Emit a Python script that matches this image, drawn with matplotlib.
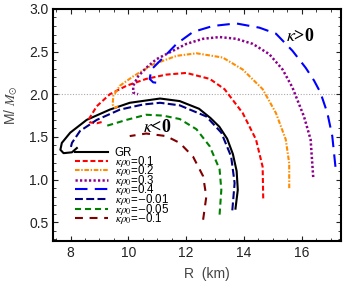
import matplotlib
matplotlib.use("Agg")
import matplotlib.pyplot as plt
from matplotlib.ticker import MultipleLocator

plt.rcParams["font.family"] = ["Liberation Sans", "DejaVu Sans"]
plt.rcParams["mathtext.fontset"] = "stix"

# mass-radius curves, R in km, M in solar masses
gr_R = [13.71, 13.79, 13.75, 13.62, 13.42, 13.15, 12.85, 12.45, 11.78, 11.10, 10.05, 9.36, 8.56, 7.99, 7.70, 7.65, 7.76, 8.05, 8.22]
gr_M = [0.66, 0.88, 1.10, 1.30, 1.48, 1.62, 1.72, 1.83, 1.92, 1.95, 1.90, 1.82, 1.70, 1.55, 1.43, 1.35, 1.31, 1.32, 1.37]

k01_R = [14.67, 14.65, 14.42, 13.96, 13.33, 12.82, 12.01, 11.31, 10.62, 9.94, 9.36, 8.91, 8.62, 8.68, 8.91, 9.14]
k01_M = [0.78, 1.15, 1.47, 1.78, 2.06, 2.18, 2.25, 2.23, 2.18, 2.10, 2.00, 1.86, 1.70, 1.67, 1.66, 1.68]

k02_R = [15.57, 15.57, 15.45, 15.11, 14.65, 13.96, 13.27, 12.36, 11.67, 10.86, 10.17, 9.71, 9.48, 9.46, 9.54, 9.65]
k02_M = [0.90, 1.19, 1.47, 1.78, 2.06, 2.29, 2.43, 2.48, 2.45, 2.35, 2.21, 2.10, 1.98, 1.88, 1.84, 1.86]

k03_R = [16.40, 16.31, 16.08, 15.68, 15.34, 14.88, 14.31, 13.73, 13.16, 12.59, 12.01, 11.55, 10.97, 10.62, 10.34, 10.17, 10.17, 10.34]
k03_M = [1.03, 1.47, 1.74, 2.08, 2.29, 2.47, 2.59, 2.65, 2.67, 2.65, 2.59, 2.51, 2.41, 2.31, 2.21, 2.10, 2.02, 2.00]

k04_R = [17.17, 17.06, 16.89, 16.65, 16.43, 16.14, 15.68, 15.11, 14.54, 13.73, 12.93, 12.24, 11.67, 11.30, 10.80, 10.74, 10.86, 11.09]
k04_M = [1.15, 1.51, 1.78, 2.02, 2.16, 2.31, 2.51, 2.71, 2.78, 2.83, 2.80, 2.73, 2.59, 2.46, 2.29, 2.18, 2.14, 2.13]

km001_R = [13.60, 13.68, 13.56, 13.22, 12.70, 11.78, 11.10, 10.51, 9.71, 8.91, 8.33, 8.05, 7.99]
km001_M = [0.64, 0.96, 1.27, 1.55, 1.74, 1.87, 1.90, 1.88, 1.82, 1.70, 1.57, 1.43, 1.35]

km005_R = [13.16, 13.22, 13.16, 12.82, 12.36, 11.78, 11.20, 10.62, 9.94, 9.25]
km005_M = [0.59, 0.88, 1.12, 1.39, 1.59, 1.71, 1.75, 1.76, 1.70, 1.63]

km01_R = [12.59, 12.70, 12.59, 12.24, 11.78, 11.31, 10.62, 10.05]
km01_M = [0.53, 0.80, 1.04, 1.27, 1.43, 1.51, 1.54, 1.51]

labels = ["GR", r"$\kappa\rho_0$=0.1", r"$\kappa\rho_0$=0.2", r"$\kappa\rho_0$=0.3",
          r"$\kappa\rho_0$=0.4", r"$\kappa\rho_0$=$-$0.01", r"$\kappa\rho_0$=$-$0.05",
          r"$\kappa\rho_0$=$-$0.1"]

curves = [
    (gr_R, gr_M, "black", "-", 1.5),
    (k01_R, k01_M, "#ff0000", (0, (2.4, 1.3)), 1.5),
    (k02_R, k02_M, "#ff8c00", (0, (2.2, 0.8, 0.7, 0.8)), 1.5),
    (k03_R, k03_M, "#8b008b", (0, (0.9, 0.9)), 1.8),
    (k04_R, k04_M, "#0000ff", (0, (6, 3.5)), 1.5),
    (km001_R, km001_M, "#000080", (0, (3.8, 1.6)), 1.5),
    (km005_R, km005_M, "#008000", (0, (2.9, 1.9)), 1.5),
    (km01_R, km01_M, "#800000", (0, (3.8, 3.2)), 1.5),
]

fig = plt.figure(figsize=(3.43, 2.87), dpi=100)
ax = fig.add_axes([0.155, 0.160, 0.839, 0.809])

ax.axhline(2.0, color="#aaaaaa", ls=(0, (1, 1.5)), lw=0.8, zorder=0)

for (r, m, c, ls, lw), lab in zip(curves, labels):
    ax.plot(r, m, color=c, ls=ls, lw=lw, label=lab)

ax.set_xlim(7.4, 17.36)
ax.set_ylim(0.28, 3.0)
ax.xaxis.set_major_locator(MultipleLocator(2))
ax.xaxis.set_minor_locator(MultipleLocator(0.5))
ax.yaxis.set_major_locator(MultipleLocator(0.5))
ax.yaxis.set_minor_locator(MultipleLocator(0.1))
ax.tick_params(which="both", direction="in", top=True, right=True, labelsize=10, colors="#222222")
ax.tick_params(which="major", length=3.5, width=0.8)
ax.tick_params(which="minor", length=2, width=0.6)
for s in ax.spines.values():
    s.set_linewidth(1.5)

ax.set_xlabel("R  (km)", fontsize=10, color="#444444")
ax.set_ylabel(r"M/ $M_{\odot}$", fontsize=10, color="#444444")
ax.xaxis.set_label_coords(0.535, -0.11)
ax.yaxis.set_label_coords(-0.115, 0.585)

ax.text(15.96, 2.68, r"$\kappa$>0", fontsize=13, fontweight="bold", family="Liberation Serif",
        ha="center", va="center")
ax.text(10.99, 1.61, r"$\kappa$<0", fontsize=13, fontweight="bold", family="Liberation Serif",
        ha="center", va="center")

ax.legend(loc="upper left", bbox_to_anchor=(0.076, 0.405), frameon=False, fontsize=8.3,
          handlelength=2.9, handletextpad=0.55, labelspacing=-0.47, borderpad=0,
          borderaxespad=0)

fig.savefig("out.png", dpi=100)
